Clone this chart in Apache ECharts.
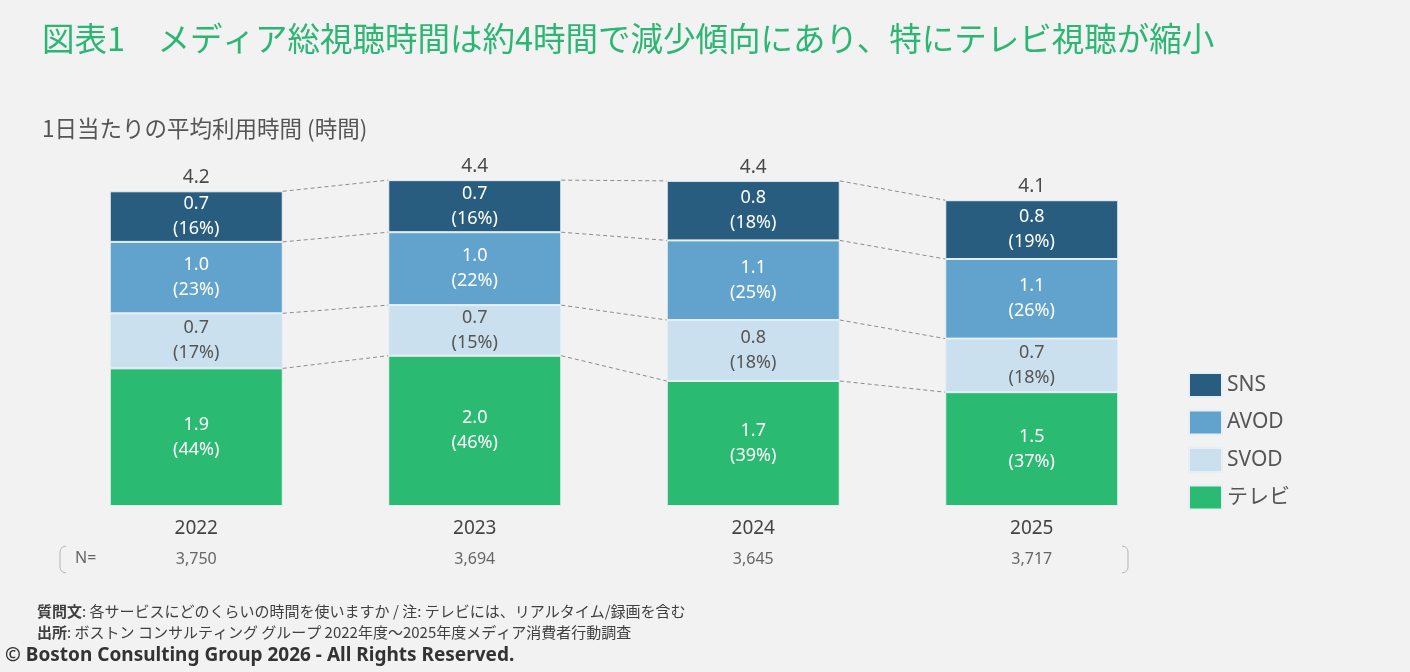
<!DOCTYPE html>
<html>
<head>
<meta charset="utf-8">
<script src="https://cdn.jsdelivr.net/npm/echarts@6/dist/echarts.min.js"></script>
<style>
  html, body { margin: 0; padding: 0; background: #f2f2f2; }
  #chart { width: 1410px; height: 672px; }
</style>
</head>
<body>
<div id="chart"></div>
<script>
// 年度
var years = ['2022', '2023', '2024', '2025'];
var sampleN = ['3,750', '3,694', '3,645', '3,717'];

// 1日当たりの平均利用時間 (時間) - 図から読み取り
var tv = [1.85, 2.02, 1.68, 1.53];
var svod = [0.74, 0.68, 0.82, 0.72];
var avod = [0.96, 0.98, 1.07, 1.07];
var sns = [0.68, 0.70, 0.80, 0.79];

// 構成比 (%)
var tvPct = [44, 46, 39, 37];
var svodPct = [17, 15, 18, 18];
var avodPct = [23, 22, 25, 26];
var snsPct = [16, 16, 18, 19];

var colors = {
    sns: '#285d7f',
    avod: '#62a3cd',
    svod: '#cbe0ee',
    tv: '#2aba72'
};
var barW = 173;
var fontFamily = '"Noto Sans", "Noto Sans CJK JP", sans-serif';
var jpFont = '"Noto Sans CJK JP", sans-serif';

var totals = years.map(function (y, i) {
    return +(tv[i] + svod[i] + avod[i] + sns[i]).toFixed(2);
});

// 破線でつなぐ各境界の累積値
var levels = [tv, svod, avod, sns];
var connData = [];
for (var i = 0; i < years.length - 1; i++) {
    var a = 0, b = 0;
    for (var l = 0; l < levels.length; l++) {
        a += levels[l][i];
        b += levels[l][i + 1];
        connData.push([i, a, i + 1, b]);
    }
}

function segLabel(pcts, color) {
    return {
        show: true,
        position: 'inside',
        color: color,
        fontSize: 18,
        lineHeight: 25,
        fontFamily: fontFamily,
        formatter: function (p) {
            return p.value.toFixed(1) + '\n(' + pcts[p.dataIndex] + '%)';
        }
    };
}

function barSeries(name, data, color, pcts, labelColor) {
    return {
        name: name,
        type: 'bar',
        stack: 'total',
        barWidth: barW,
        data: data,
        itemStyle: { color: color, borderColor: '#e6eff5', borderWidth: 1 },
        label: segLabel(pcts, labelColor),
        emphasis: { disabled: true }
    };
}

function bracket(x, dir) {
    // dir: 1 = 左括弧, -1 = 右括弧
    var pts = [[6, 546], [2.5, 547], [0.5, 549.5], [0, 552], [0, 567], [0.5, 569.5], [2.5, 572], [6, 573]];
    return {
        type: 'polyline',
        shape: { points: pts.map(function (p) { return [x + dir * p[0], p[1]]; }) },
        style: { stroke: '#b5b5b5', lineWidth: 1, fill: null }
    };
}

var chart = echarts.init(document.getElementById('chart'));
var option = {
    backgroundColor: '#f2f2f2',
    animation: false,
    title: [
        {
            text: '図表1　メディア総視聴時間は約4時間で減少傾向にあり、特にテレビ視聴が縮小',
            left: 37,
            top: 17,
            textStyle: {
                color: '#2bb673',
                fontSize: 32.5,
                fontWeight: 'normal',
                fontFamily: jpFont
            }
        },
        {
            text: '1日当たりの平均利用時間 (時間)',
            left: 37,
            top: 112,
            textStyle: {
                color: '#555555',
                fontSize: 22.5,
                fontWeight: 'normal',
                fontFamily: jpFont
            }
        }
    ],
    legend: {
        orient: 'vertical',
        left: 1183,
        top: 367,
        itemWidth: 33,
        itemHeight: 24,
        itemGap: 11.5,
        icon: 'rect',
        data: ['SNS', 'AVOD', 'SVOD', 'テレビ'],
        textStyle: { color: '#555555', fontSize: 21, fontFamily: fontFamily },
        selectedMode: false
    },
    grid: { left: 57, right: 239, top: 134, bottom: 166 },
    xAxis: {
        type: 'category',
        data: years,
        axisLine: { show: false },
        axisTick: { show: false },
        axisLabel: {
            margin: 8,
            formatter: function (v, i) {
                return '{y|' + v + '}\n{n|' + sampleN[i] + '}';
            },
            rich: {
                y: { color: '#444444', fontSize: 19, lineHeight: 30, fontFamily: fontFamily },
                n: { color: '#666666', fontSize: 16, lineHeight: 31, fontFamily: fontFamily }
            }
        }
    },
    yAxis: {
        type: 'value',
        min: 0,
        max: 5,
        show: false
    },
    series: [
        barSeries('テレビ', tv, colors.tv, tvPct, '#ffffff'),
        barSeries('SVOD', svod, colors.svod, svodPct, '#555555'),
        barSeries('AVOD', avod, colors.avod, avodPct, '#ffffff'),
        barSeries('SNS', sns, colors.sns, snsPct, '#ffffff'),
        {
            name: '合計',
            type: 'scatter',
            data: totals,
            symbolSize: 0,
            silent: true,
            itemStyle: { opacity: 1 },
            label: {
                show: true,
                position: 'top',
                distance: 4,
                color: '#4a4a4a',
                fontSize: 19,
                fontFamily: fontFamily,
                formatter: function (p) { return p.value.toFixed(1); }
            }
        },
        {
            name: 'conn',
            type: 'custom',
            silent: true,
            z: 1,
            data: connData,
            renderItem: function (params, api) {
                var p1 = api.coord([api.value(0), api.value(1)]);
                var p2 = api.coord([api.value(2), api.value(3)]);
                return {
                    type: 'line',
                    shape: { x1: p1[0] + barW / 2, y1: p1[1], x2: p2[0] - barW / 2, y2: p2[1] },
                    style: { stroke: '#8c8c8c', lineWidth: 1, lineDash: [4, 3] }
                };
            }
        }
    ],
    graphic: [
        bracket(60, 1),
        bracket(1128, -1),
        {
            type: 'text',
            left: 75,
            top: 550,
            style: { text: 'N=', fill: '#666666', font: '16px ' + fontFamily }
        },
        {
            type: 'text',
            left: 37,
            top: 604,
            style: {
                text: '{b|質問文}: 各サービスにどのくらいの時間を使いますか / 注: テレビには、リアルタイム/録画を含む',
                fill: '#404040',
                font: '15px ' + jpFont,
                rich: { b: { fontWeight: 'bold', fontSize: 15, fill: '#404040', fontFamily: jpFont } }
            }
        },
        {
            type: 'text',
            left: 37,
            top: 625,
            style: {
                text: '{b|出所}: ボストン コンサルティング グループ 2022年度～2025年度メディア消費者行動調査',
                fill: '#404040',
                font: '15px ' + jpFont,
                rich: { b: { fontWeight: 'bold', fontSize: 15, fill: '#404040', fontFamily: jpFont } }
            }
        },
        {
            type: 'text',
            left: 5,
            top: 646,
            style: {
                text: '© Boston Consulting Group 2026 - All Rights Reserved.',
                fill: '#333333',
                font: 'bold 19px ' + fontFamily
            }
        }
    ]
};
chart.setOption(option);
</script>
</body>
</html>
